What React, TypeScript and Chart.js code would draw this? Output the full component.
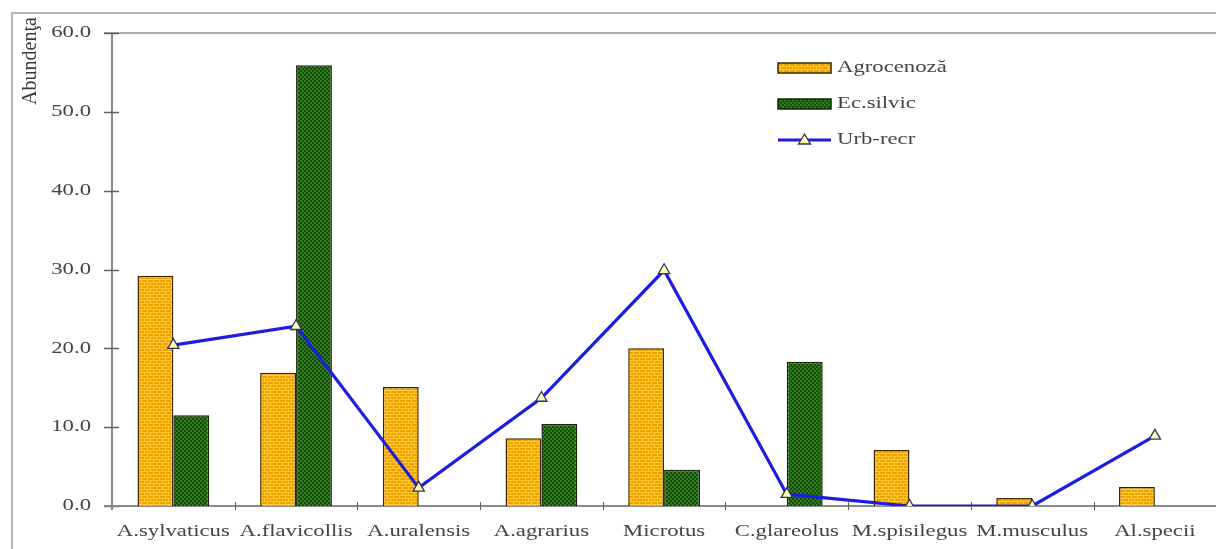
import React, { useEffect, useRef } from "react";
import { Chart, registerables } from "chart.js";

Chart.register(...registerables);

const categories = [
  "A.sylvaticus",
  "A.flavicollis",
  "A.uralensis",
  "A.agrarius",
  "Microtus",
  "C.glareolus",
  "M.spisilegus",
  "M.musculus",
  "Al.specii",
];
const agrocenoza = [29.2, 16.9, 15.1, 8.6, 20.0, 0, 7.1, 1.0, 2.4];
const ecSilvic = [11.5, 55.9, 0, 10.4, 4.6, 18.3, 0, 0, 0];
const urbRecr = [20.4, 22.8, 2.3, 13.7, 29.9, 1.5, 0, 0, 8.9];
const yTicks = [0, 10, 20, 30, 40, 50, 60];
const seriesNames = ["Agrocenoză", "Ec.silvic", "Urb-recr"];
const yTitle = "Abundenţa";

const FONT = '16px "Liberation Serif", "Times New Roman", serif';
const SX = 1.42;
const TEXT = "#444";

function brickPattern(): CanvasPattern | string {
  const c = document.createElement("canvas");
  c.width = 6;
  c.height = 6;
  const g = c.getContext("2d");
  if (!g) return "#F0A400";
  g.fillStyle = "#F2A200";
  g.fillRect(0, 0, 6, 6);
  g.fillStyle = "#FFCC30";
  g.fillRect(0, 0, 6, 1);
  g.fillRect(0, 3, 6, 1);
  g.fillRect(0, 0, 1, 3);
  g.fillRect(3, 3, 1, 3);
  return g.createPattern(c, "repeat") || "#F0A400";
}

function checkPattern(): CanvasPattern | string {
  const c = document.createElement("canvas");
  c.width = 4;
  c.height = 4;
  const g = c.getContext("2d");
  if (!g) return "#276214";
  g.fillStyle = "#184A0A";
  g.fillRect(0, 0, 4, 4);
  g.fillStyle = "#2E7E1A";
  g.fillRect(0, 0, 2, 2);
  g.fillRect(2, 2, 2, 2);
  return g.createPattern(c, "repeat") || "#276214";
}

function stretchedText(
  ctx: CanvasRenderingContext2D,
  text: string,
  x: number,
  y: number,
  align: CanvasTextAlign
) {
  ctx.save();
  ctx.translate(x, y);
  ctx.scale(SX, 1);
  ctx.font = FONT;
  ctx.fillStyle = TEXT;
  ctx.textAlign = align;
  ctx.textBaseline = "middle";
  ctx.fillText(text, 0, 0);
  ctx.restore();
}

export default function App() {
  const ref = useRef<HTMLCanvasElement | null>(null);

  useEffect(() => {
    if (!ref.current) return;
    const orange = brickPattern();
    const green = checkPattern();

    const axesPlugin = {
      id: "axesFrame",
      beforeDatasetsDraw(chart: any) {
        const ctx = chart.ctx as CanvasRenderingContext2D;
        const a = chart.chartArea;
        const y = chart.scales.y;
        const n = categories.length;
        const step = (a.right - a.left) / n;
        ctx.save();
        // outer frame
        ctx.strokeStyle = "#b4b4b4";
        ctx.lineWidth = 2;
        ctx.beginPath();
        ctx.moveTo(12, 560);
        ctx.lineTo(12, 13);
        ctx.lineTo(1230, 13);
        ctx.stroke();
        // plot top border
        ctx.strokeStyle = "#b0b0b0";
        ctx.beginPath();
        ctx.moveTo(a.left - 8, a.top);
        ctx.lineTo(1230, a.top);
        ctx.stroke();
        // y axis
        ctx.strokeStyle = "#606060";
        ctx.lineWidth = 1.5;
        ctx.beginPath();
        ctx.moveTo(a.left, a.top);
        ctx.lineTo(a.left, a.bottom + 4);
        ctx.stroke();
        yTicks.forEach((v) => {
          const py = Math.round(y.getPixelForValue(v)) + 0.5;
          ctx.beginPath();
          ctx.moveTo(a.left - 8, py);
          ctx.lineTo(a.left + 7, py);
          ctx.stroke();
        });
        // x axis
        ctx.strokeStyle = "#8a8a8a";
        ctx.lineWidth = 2;
        ctx.beginPath();
        ctx.moveTo(a.left - 8, a.bottom);
        ctx.lineTo(1230, a.bottom);
        ctx.stroke();
        ctx.strokeStyle = "#606060";
        ctx.lineWidth = 1;
        for (let i = 1; i <= n; i++) {
          const px = Math.round(a.left + i * step) + 0.5;
          ctx.beginPath();
          ctx.moveTo(px, a.bottom - 4);
          ctx.lineTo(px, a.bottom + 4);
          ctx.stroke();
        }
        ctx.restore();
      },
      afterDraw(chart: any) {
        const ctx = chart.ctx as CanvasRenderingContext2D;
        const a = chart.chartArea;
        const x = chart.scales.x;
        const y = chart.scales.y;
        // tick labels
        yTicks.forEach((v) => {
          stretchedText(ctx, v.toFixed(1), a.left - 21, y.getPixelForValue(v), "right");
        });
        categories.forEach((c, i) => {
          stretchedText(ctx, c, x.getPixelForValue(i), a.bottom + 26, "center");
        });
        // axis title
        ctx.save();
        ctx.translate(31, 61);
        ctx.rotate(-Math.PI / 2);
        ctx.font = '20px "Liberation Serif", serif';
        ctx.fillStyle = "#3a3a3a";
        ctx.textAlign = "center";
        ctx.textBaseline = "middle";
        ctx.fillText(yTitle, 0, 0);
        ctx.restore();
        // legend
        const lx = 778;
        const lw = 53;
        const rows = [68, 104, 140];
        ctx.save();
        ctx.lineWidth = 1.5;
        ctx.strokeStyle = "#3a2600";
        ctx.fillStyle = orange as any;
        ctx.fillRect(lx, rows[0] - 5, lw, 10);
        ctx.strokeRect(lx, rows[0] - 5, lw, 10);
        ctx.strokeStyle = "#0f2a08";
        ctx.fillStyle = green as any;
        ctx.fillRect(lx, rows[1] - 5, lw, 10);
        ctx.strokeRect(lx, rows[1] - 5, lw, 10);
        ctx.strokeStyle = "#1d1de0";
        ctx.lineWidth = 3;
        ctx.beginPath();
        ctx.moveTo(lx, rows[2]);
        ctx.lineTo(lx + lw, rows[2]);
        ctx.stroke();
        const cx = lx + lw / 2;
        ctx.beginPath();
        ctx.moveTo(cx, rows[2] - 6);
        ctx.lineTo(cx + 6, rows[2] + 4);
        ctx.lineTo(cx - 6, rows[2] + 4);
        ctx.closePath();
        ctx.fillStyle = "#ffffa8";
        ctx.fill();
        ctx.strokeStyle = "#303070";
        ctx.lineWidth = 1.3;
        ctx.stroke();
        ctx.restore();
        seriesNames.forEach((s, i) => stretchedText(ctx, s, lx + lw + 6, rows[i], "left"));
      },
    };

    const chart = new Chart(ref.current, {
      type: "bar",
      data: {
        labels: categories,
        datasets: [
          {
            type: "line",
            label: seriesNames[2],
            data: urbRecr,
            borderColor: "#1d1de0",
            borderWidth: 3.2,
            pointStyle: "triangle",
            pointRadius: 6.5,
            pointBackgroundColor: "#ffffa8",
            pointBorderColor: "#303070",
            pointBorderWidth: 1.3,
            tension: 0,
            order: 0,
          } as any,
          {
            label: seriesNames[0],
            data: agrocenoza,
            backgroundColor: orange as any,
            borderColor: "#3a2600",
            borderWidth: 1.5,
            categoryPercentage: 0.585,
            barPercentage: 1,
            order: 1,
          },
          {
            label: seriesNames[1],
            data: ecSilvic,
            backgroundColor: green as any,
            borderColor: "#0f2a08",
            borderWidth: 1.5,
            categoryPercentage: 0.585,
            barPercentage: 1,
            order: 1,
          },
        ],
      },
      options: {
        responsive: false,
        animation: false,
        devicePixelRatio: 1,
        layout: { padding: { left: 0, top: 33, right: 0, bottom: 0 } },
        plugins: { legend: { display: false }, tooltip: { enabled: false } },
        scales: {
          x: {
            offset: true,
            grid: { display: false },
            border: { display: false },
            ticks: { display: false },
            afterFit: (s: any) => {
              s.height = 43;
            },
          },
          y: {
            min: 0,
            max: 60,
            grid: { display: false },
            border: { display: false },
            ticks: { display: false, stepSize: 10 },
            afterFit: (s: any) => {
              s.width = 112;
            },
          },
        },
      },
      plugins: [axesPlugin],
    });
    return () => chart.destroy();
  }, []);

  return (
    <div
      style={{
        position: "fixed",
        left: 0,
        top: 0,
        width: 1216,
        height: 549,
        overflow: "hidden",
        background: "#fff",
      }}
    >
      <canvas ref={ref} width={1224} height={549} style={{ display: "block" }} />
    </div>
  );
}
